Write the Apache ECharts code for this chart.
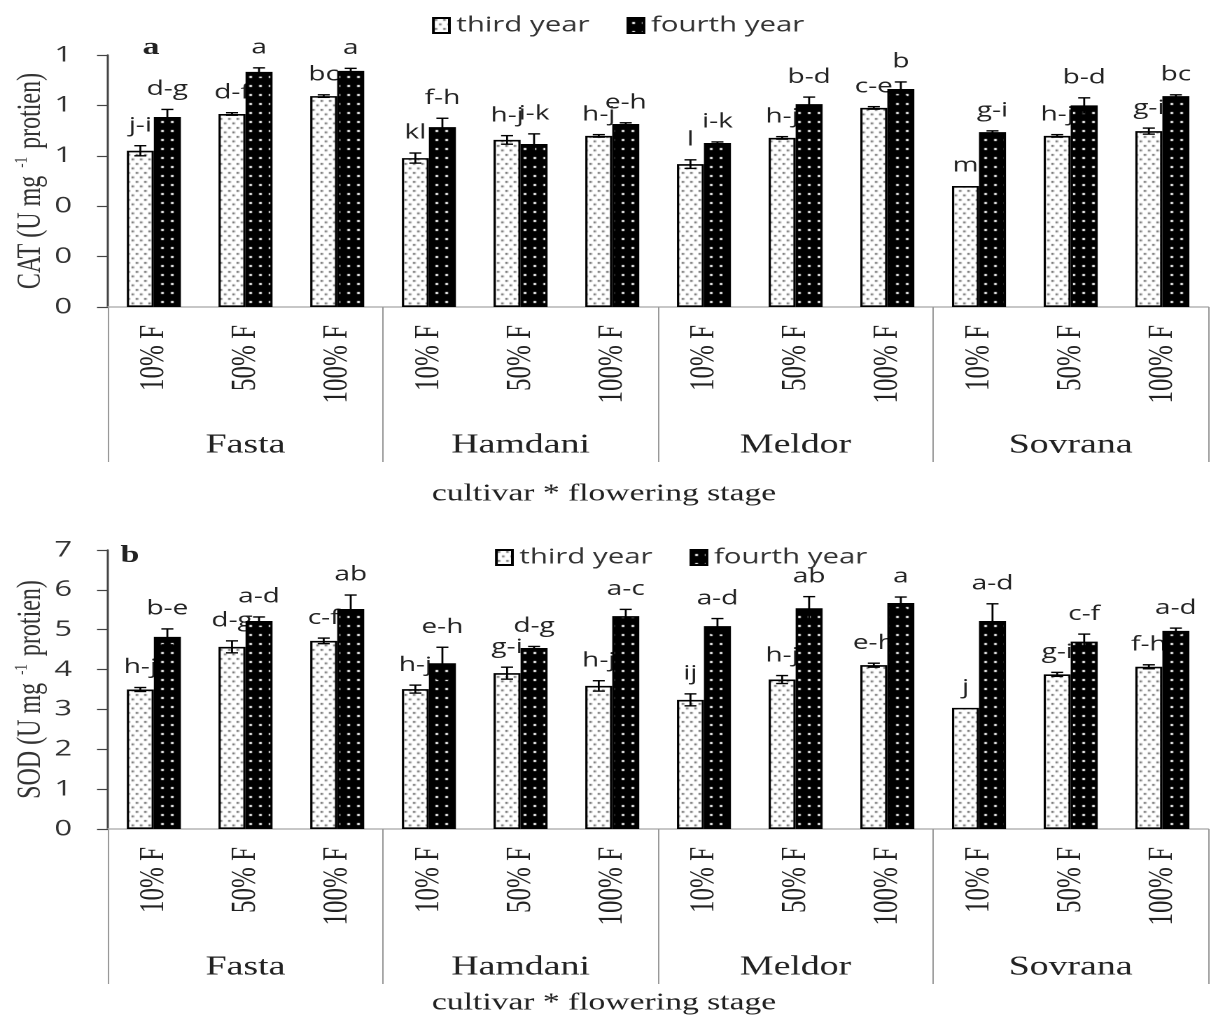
<!DOCTYPE html>
<html>
<head>
<meta charset="utf-8">
<script src="https://cdn.jsdelivr.net/npm/echarts/dist/echarts.min.js"></script>
<style>
html,body{margin:0;padding:0;background:#fff;overflow:hidden}
#wrap{width:1215px;height:1017px;overflow:hidden;position:relative;background:#fff}
#chart{position:absolute;left:0;top:0;height:1017px;transform-origin:0 0}
</style>
</head>
<body>
<div id="wrap"><div id="chart"></div></div>
<script>
// ---------------- DATA ----------------
const cultivars = ['Fasta', 'Hamdani', 'Meldor', 'Sovrana'];
const stages = ['10% F', '50% F', '100% F'];
const seriesNames = ['third year', 'fourth year'];

const catTickLabels = ['0', '0', '0', '1', '1', '1'];
const sodTickLabels = ['0', '1', '2', '3', '4', '5', '6', '7'];

// CAT (panel a)
const catThird      = [0.620, 0.766, 0.837, 0.591, 0.663, 0.679, 0.567, 0.671, 0.790, 0.480, 0.679, 0.698];
const catThirdErr   = [0.020, 0.005, 0.005, 0.020, 0.017, 0.005, 0.017, 0.005, 0.005, 0.000, 0.005, 0.012];
const catFourth     = [0.754, 0.933, 0.937, 0.714, 0.647, 0.726, 0.651, 0.805, 0.865, 0.694, 0.800, 0.837];
const catFourthErr  = [0.030, 0.016, 0.010, 0.035, 0.040, 0.005, 0.004, 0.028, 0.028, 0.005, 0.030, 0.005];
const catThirdLetters  = ['j-i', 'd-f', 'bc', 'kl', 'h-j', 'h-j', 'l', 'h-j', 'c-e', 'm', 'h-j', 'g-i'];
const catFourthLetters = ['d-g', 'a', 'a', 'f-h', 'i-k', 'e-h', 'i-k', 'b-d', 'b', 'g-i', 'b-d', 'bc'];

// SOD (panel b)
const sodThird      = [3.50, 4.57, 4.72, 3.51, 3.91, 3.59, 3.24, 3.75, 4.11, 3.04, 3.88, 4.07];
const sodThirdErr   = [0.05, 0.15, 0.07, 0.10, 0.15, 0.13, 0.15, 0.10, 0.05, 0.00, 0.05, 0.05];
const sodFourth     = [4.82, 5.22, 5.52, 4.16, 4.54, 5.34, 5.09, 5.54, 5.67, 5.22, 4.70, 4.97];
const sodFourthErr  = [0.20, 0.10, 0.35, 0.40, 0.04, 0.17, 0.19, 0.29, 0.15, 0.43, 0.19, 0.07];
const sodThirdLetters  = ['h-j', 'd-g', 'c-f', 'h-j', 'g-i', 'h-j', 'ij', 'h-j', 'e-h', 'j', 'g-i', 'f-h'];
const sodFourthLetters = ['b-e', 'a-d', 'ab', 'e-h', 'd-g', 'a-c', 'a-d', 'ab', 'a', 'a-d', 'c-f', 'a-d'];

const panelLabels = ['a', 'b'];
const axisTitle = 'cultivar * flowering stage';
const yNames = ['CAT (U mg {sup|-1} protien)', 'SOD (U mg {sup|-1} protien)'];

// ---------------- LAYOUT (horizontal stretch like the reference) ----------------
const S = 1.4;
const X = px => px / S;
const el = document.getElementById('chart');
el.style.width = (1215 / S) + 'px';
el.style.transform = 'scaleX(' + S + ')';

const stageCats = [];
cultivars.forEach(() => stages.forEach(s => stageCats.push(s)));

const barW = X(27);
const SANS = '"Open Sans", "Liberation Sans", sans-serif';
const SERIF = '"Liberation Serif", "Times New Roman", serif';

function makePattern(w, h, bg, dotColor, dots, ds) {
  const c = document.createElement('canvas');
  c.width = w; c.height = h;
  const ctx = c.getContext('2d');
  ctx.fillStyle = bg; ctx.fillRect(0, 0, w, h);
  ctx.fillStyle = dotColor;
  dots.forEach(d => ctx.fillRect(d[0], d[1], ds[0], ds[1]));
  return { image: c, repeat: 'repeat' };
}
const pat3 = makePattern(6, 9, '#ffffff', '#5a5a5a', [[1, 1], [4, 5.5]], [1.6, 1.8]);
const pat4 = makePattern(7, 9, '#000000', '#ffffff', [[3, 4]], [2, 2]);

function stageAxis(g) {
  return {
    type: 'category', gridIndex: g, data: stageCats, position: 'bottom',
    axisLine: { show: true, lineStyle: { color: '#b5b5b5', width: 1.5 } },
    axisTick: { show: false },
    axisLabel: { interval: 0, rotate: 90, margin: 18, fontFamily: SERIF, fontSize: 25, color: '#222' },
    splitLine: { show: false }
  };
}
function cultivarAxis(g) {
  return {
    type: 'category', gridIndex: g, data: cultivars, position: 'bottom',
    axisLine: { show: false },
    axisTick: { show: true, interval: 0, length: 155, lineStyle: { color: '#999', width: 1 } },
    axisLabel: { interval: 0, margin: 125, fontFamily: SERIF, fontSize: 27, color: '#222' },
    splitLine: { show: false }
  };
}
function valueAxis(g, max, interval, ticks, name) {
  return {
    type: 'value', gridIndex: g, min: 0, max: max, interval: interval,
    axisLine: { show: true, lineStyle: { color: '#444', width: 1.5 } },
    axisTick: { show: true, length: X(11), lineStyle: { color: '#444', width: 1.2 } },
    axisLabel: { margin: X(36), fontFamily: SANS, fontSize: 22, color: '#333',
      formatter: (v, i) => ticks[i] },
    splitLine: { show: false },
    name: name, nameLocation: 'middle', nameGap: X(59), nameRotate: 90, nameMoveOverlap: false,
    nameTextStyle: { fontFamily: SERIF, fontSize: 24, color: '#333', lineHeight: 26,
      rich: { sup: { fontFamily: SERIF, fontSize: 13, color: '#333', verticalAlign: 'top', padding: [0, 2, 0, 2] } } }
  };
}

function barSeries(g, idx, data) {
  return {
    type: 'bar', name: seriesNames[idx], xAxisIndex: g * 2, yAxisIndex: g,
    data: data, barWidth: barW, barGap: '0%', z: 2,
    itemStyle: { color: idx === 0 ? pat3 : pat4, borderColor: '#000', borderWidth: 1.6 }
  };
}
function errSeries(g, idx, vals, errs) {
  const sign = idx === 0 ? -1 : 1;
  return {
    type: 'custom', name: 'err' + g + idx, xAxisIndex: g * 2, yAxisIndex: g, z: 3, silent: true,
    data: vals.map((v, i) => [i, v, errs[i]]),
    renderItem: function (params, api) {
      const i = api.value(0), v = api.value(1), e = api.value(2);
      if (!e) return { type: 'group', children: [] };
      const x = api.coord([i, v])[0] + sign * barW / 2;
      const yT = api.coord([i, v + e])[1];
      const yB = api.coord([i, v - e])[1];
      const hw = X(6);
      const st = { stroke: '#000', lineWidth: 1.4 };
      return { type: 'group', children: [
        { type: 'line', shape: { x1: x, y1: yT, x2: x, y2: yB }, style: st },
        { type: 'line', shape: { x1: x - hw, y1: yT, x2: x + hw, y2: yT }, style: st },
        { type: 'line', shape: { x1: x - hw, y1: yB, x2: x + hw, y2: yB }, style: st }
      ] };
    }
  };
}
function labelSeries(g, idx, vals, errs, letters) {
  const sign = idx === 0 ? -1 : 1;
  return {
    type: 'custom', name: 'lab' + g + idx, xAxisIndex: g * 2, yAxisIndex: g, z: 1, silent: true,
    data: vals.map((v, i) => [i, v, errs[i]]),
    renderItem: function (params, api) {
      const i = api.value(0), v = api.value(1), e = api.value(2);
      const x = api.coord([i, v])[0] + sign * barW / 2;
      const yT = api.coord([i, v + e])[1];
      return { type: 'text', x: x, y: yT - 10,
        style: { text: letters[params.dataIndex], font: '20px ' + SANS, fill: '#222',
          align: 'center', verticalAlign: 'bottom', textAlign: 'center', textVerticalAlign: 'bottom' } };
    }
  };
}

const legendCommon = {
  orient: 'horizontal', icon: 'rect', itemWidth: X(16), itemHeight: 15, itemGap: X(37),
  textStyle: { fontFamily: SANS, fontSize: 21, color: '#333', padding: [0, 0, 0, 0] },
  data: seriesNames, selectedMode: false
};

function txt(x, y, text, font, align) {
  return { type: 'text', x: x, y: y, silent: true,
    style: { text: text, font: font, fill: '#222', align: align || 'center', verticalAlign: 'middle',
      textAlign: align || 'center', textVerticalAlign: 'middle' } };
}

const option = {
  animation: false,
  backgroundColor: '#fff',
  grid: [
    { left: X(108), right: X(7), top: 55, height: 252, containLabel: false, outerBoundsMode: 'none' },
    { left: X(108), right: X(7), top: 550, height: 279, containLabel: false, outerBoundsMode: 'none' }
  ],
  xAxis: [stageAxis(0), cultivarAxis(0), stageAxis(1), cultivarAxis(1)],
  yAxis: [
    valueAxis(0, 1.0, 0.2, catTickLabels, yNames[0]),
    valueAxis(1, 7, 1, sodTickLabels, yNames[1])
  ],
  legend: [
    Object.assign({}, legendCommon, { left: X(425), top: 10 }),
    Object.assign({}, legendCommon, { left: X(488), top: 542 })
  ],
  graphic: [
    txt(X(151), 48, panelLabels[0], 'bold 24px ' + SERIF),
    txt(X(130), 556, panelLabels[1], 'bold 24px ' + SERIF),
    txt(X(604), 494, axisTitle, '24px ' + SERIF),
    txt(X(604), 1003, axisTitle, '24px ' + SERIF)
  ],
  series: [
    labelSeries(0, 0, catThird, catThirdErr, catThirdLetters),
    labelSeries(0, 1, catFourth, catFourthErr, catFourthLetters),
    barSeries(0, 0, catThird),
    barSeries(0, 1, catFourth),
    errSeries(0, 0, catThird, catThirdErr),
    errSeries(0, 1, catFourth, catFourthErr),
    labelSeries(1, 0, sodThird, sodThirdErr, sodThirdLetters),
    labelSeries(1, 1, sodFourth, sodFourthErr, sodFourthLetters),
    barSeries(1, 0, sodThird),
    barSeries(1, 1, sodFourth),
    errSeries(1, 0, sodThird, sodThirdErr),
    errSeries(1, 1, sodFourth, sodFourthErr)
  ]
};

const chart = echarts.init(el, null, { renderer: 'canvas', devicePixelRatio: 2 });
chart.setOption(option);
</script>
</body>
</html>
